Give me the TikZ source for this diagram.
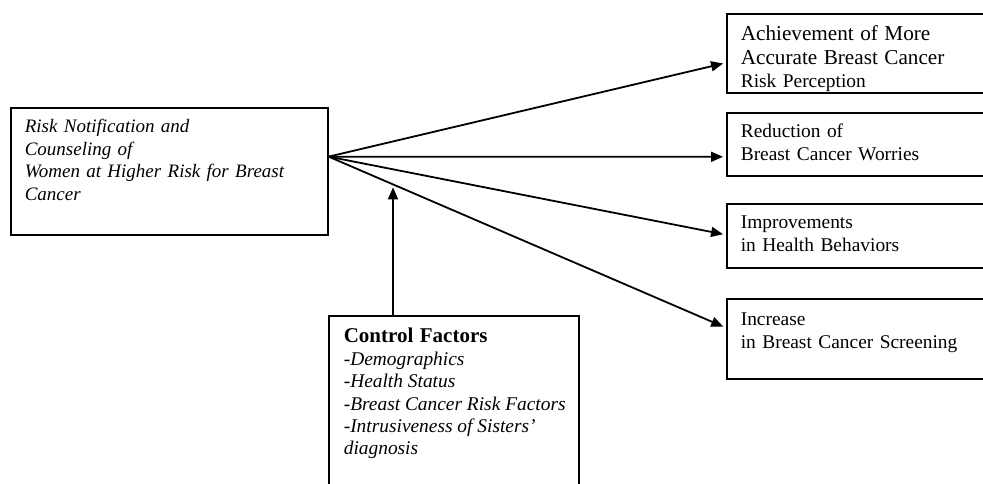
\documentclass[tikz,border=0pt]{standalone}
\usepackage{fontspec}
\setmainfont{Liberation Serif}
\usetikzlibrary{arrows.meta,calc}
\newcommand\slanted{\itshape\spaceskip=0.25em\relax}
\begin{document}
\begin{tikzpicture}[x=0.5pt,y=-0.5pt]
\tikzstyle{every node}+=[inner sep=0pt]
\tikzstyle{box}=[draw=black,line width=0.8pt,anchor=north west,align=left,inner xsep=7pt,inner ysep=0pt]
\tikzstyle{outcome}=[box,text width=123pt,font=\fontsize{9.7}{11.5}\selectfont]
\tikzstyle{link}=[draw=black,line width=0.9pt,shorten >=1.5pt,-{Triangle[length=6pt,width=5pt]}]
\useasboundingbox (0,0) rectangle (983,483);
\clip (0,0) rectangle (983,483);
% intervention
\node [box,text width=144.5pt,text height=12.5pt,text depth=51pt,font=\fontsize{9.5}{11.2}\selectfont\slanted] (notify) at (10,107) {Risk Notification and\\Counseling of\\Women at Higher Risk for Breast\\Cancer};
% outcomes
\node [outcome,text height=13.5pt,text depth=26pt] (accur) at (726,13) {\fontsize{10.6}{12}\selectfont Achievement of More\\Accurate Breast Cancer\\\fontsize{9.7}{12}\selectfont Risk Perception};
\node [outcome,text height=12.5pt,text depth=19pt] (worry) at (726,112) {Reduction of\\Breast Cancer Worries};
\node [outcome,text height=12.5pt,text depth=19.5pt] (behav) at (726,203) {Improvements\\in Health Behaviors};
\node [outcome,text height=13.5pt,text depth=26.5pt] (screen) at (726,298) {Increase\\in Breast Cancer Screening};
% control factors
\node [box,inner xsep=7.5pt,text width=110pt,text height=13.5pt,text depth=100pt,font=\fontsize{9.7}{11.2}\selectfont] (ctrl) at (328,315) {{\fontsize{10.5}{11.2}\selectfont\bfseries Control Factors}\\\slanted -Demographics\\-Health Status\\\mbox{-Breast Cancer Risk Factors}\\-Intrusiveness of Sisters'\\diagnosis};
\coordinate (hub) at ($(notify.north east)!0.386!(notify.south east)$);
\coordinate (base) at ([xshift=32.5pt]ctrl.north west);
\coordinate (sink) at ([yshift=5.5pt]screen.west);
\coordinate (meet) at ($(hub)!0.162!(sink)$);
\draw [link] (hub) -- ([yshift=-4.75pt]accur.west);
\draw [link] (hub) -- ([yshift=-6.25pt]worry.west);
\draw [link] (hub) -- ([yshift=0.5pt]behav.west);
\draw [link] (hub) -- (sink);
\draw [link] (base) -- (base |- meet);
\end{tikzpicture}
\end{document}
